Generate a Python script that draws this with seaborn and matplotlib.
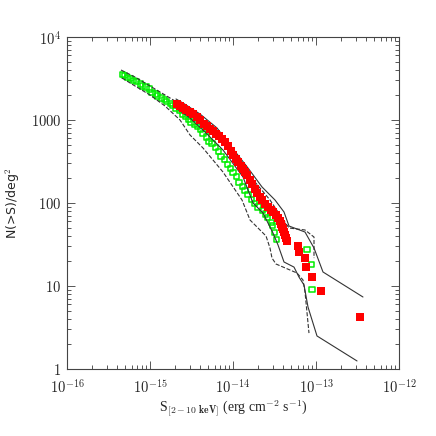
import numpy as np
import pandas as pd
import matplotlib
matplotlib.use("Agg")
import matplotlib.pyplot as plt
import seaborn as sns
from matplotlib.ticker import LogLocator, NullFormatter

# fluxes in units of 1e-15 erg cm^-2 s^-1, counts N(>S) per deg^2
green_s = [0.460, 0.4995, 0.543, 0.590, 0.641, 0.697, 0.758, 0.823, 0.895, 0.973,
           1.057, 1.149, 1.248, 1.357, 1.475, 1.602, 1.742, 1.893, 2.057, 2.236,
           2.430, 2.641, 2.870, 3.119, 3.390, 3.684, 4.004, 4.351, 4.729, 5.139,
           5.585, 6.070, 6.597, 7.169, 7.792, 8.468, 9.203, 10.0, 10.87, 11.81,
           12.84, 13.95, 15.16, 16.48, 17.91, 20.01, 22.36, 24.30, 26.40, 28.70,
           30.33, 32.06, 33.89, 77.9, 87.1, 89.5]
green_n = [3582, 3483, 3294, 3205, 3033, 2870, 2715, 2568, 2498, 2363,
           2174, 2057, 1946, 1841, 1742, 1648, 1559, 1475, 1357, 1284,
           1181, 1117, 1028, 946, 895, 824, 758, 697, 624, 558,
           514, 460, 412, 368, 330, 295, 257, 230, 206, 179,
           160, 143, 125, 108.7, 97.3, 89.5, 82.3, 73.7, 66.0, 59.0,
           54.3, 44.7, 36.8, 27.9, 18.4, 9.2]

red_s = [2.115, 2.299, 2.498, 2.715, 3.033, 3.297, 3.684, 4.004, 4.473, 4.861,
         5.283, 5.741, 6.240, 6.782, 7.370, 8.010, 8.705, 9.461, 10.0, 10.87,
         11.49, 12.48, 13.20, 13.95, 14.75, 16.03, 16.94, 18.41, 19.46, 21.15,
         22.36, 24.30, 26.40, 28.70, 30.33, 32.97, 34.85, 36.84, 37.87, 38.94,
         40.04, 41.16, 42.31, 43.50, 44.73, 60.7, 62.4, 73.7, 75.8, 89.5,
         114.9, 339]
red_n = [1559, 1475, 1395, 1320, 1248, 1181, 1087, 1000, 895, 847,
         779, 737, 678, 642, 590, 543, 486, 423, 379, 339,
         312, 279, 257, 236, 217, 189, 169, 147.5, 132, 118,
         108.7, 97.3, 89.5, 82.3, 77.9, 71.7, 66.0, 60.7, 55.8, 51.4,
         48.6, 44.7, 41.2, 37.9, 34.8, 30.3, 25.7, 21.7, 16.9, 12.8,
         8.7, 4.23]

# confidence envelopes
up_solid_s = [2.057, 2.498, 4.004, 6.415, 9.203, 15.16, 22.36, 32.06, 41.16, 47.3, 73.7, 94.6, 121.4, 368]
up_solid_n = [1791, 1603, 1181, 801, 500, 264, 156, 108.7, 77.9, 52.8, 44.7, 28.7, 14.75, 7.37]
lo_solid_s = [2.057, 3.033, 4.598, 7.578, 13.20, 17.42, 22.98, 30.33, 34.85, 41.16, 54.3, 62.4, 71.7, 80.1, 102.8, 312]
lo_solid_n = [1395, 1057, 717, 435, 206, 100, 75.8, 43.5, 31.2, 19.46, 16.9, 12.8, 10.28, 5.58, 2.50, 1.25]
up_dash_s = [0.447, 0.660, 1.0, 1.516, 2.299, 4.004, 6.973, 12.14, 18.41, 27.9, 36.84, 47.3, 73.7, 94.6, 94.6]
up_dash_n = [4004, 3294, 2568, 2001, 1559, 1057, 624, 330, 179, 108.7, 71.7, 50.0, 47.3, 38.9, 21.7]
lo_dash_s = [0.460, 0.660, 1.0, 1.516, 2.299, 3.033, 4.351, 7.578, 12.84, 16.03, 20.01, 25.0, 27.9, 29.5, 32.97, 59.0, 69.7, 73.7, 82.3]
lo_dash_n = [3205, 2568, 2001, 1475, 1000, 660, 460, 236, 108.7, 62.4, 50.0, 40.0, 28.7, 21.7, 18.4, 14.34, 11.81, 8.47, 2.71]

green = pd.DataFrame({"S": np.array(green_s) * 1e-15, "N": green_n})
red = pd.DataFrame({"S": np.array(red_s) * 1e-15, "N": red_n})

sns.set_style("ticks")
plt.rcParams["font.family"] = ["Liberation Serif", "DejaVu Serif"]
plt.rcParams["mathtext.fontset"] = "cm"

fig = plt.figure(figsize=(4.36, 4.36), dpi=100)
ax = fig.add_axes([67 / 436, 67 / 436, 332 / 436, 332 / 436])
ax.set_xscale("log")
ax.set_yscale("log")

sns.scatterplot(data=green, x="S", y="N", marker="s", s=13, facecolor="none",
                edgecolor="#00ee00", linewidth=1.1, ax=ax, zorder=2)

for xs, ys, ls in [(up_solid_s, up_solid_n, "-"), (lo_solid_s, lo_solid_n, "-"),
                   (up_dash_s, up_dash_n, "--"), (lo_dash_s, lo_dash_n, "--")]:
    d = pd.DataFrame({"S": np.array(xs) * 1e-15, "N": ys})
    sns.lineplot(data=d, x="S", y="N", sort=False, estimator=None, color="#333333",
                 linewidth=0.8, linestyle=ls, ax=ax, zorder=3,
                 dashes=False if ls == "-" else (5, 4))

sns.scatterplot(data=red, x="S", y="N", marker="s", s=27, color="#ff0000",
                edgecolor="none", ax=ax, zorder=4)

ax.set_xlim(1e-16, 1e-12)
ax.set_ylim(1, 1e4)
ax.set_xticks([1e-16, 1e-15, 1e-14, 1e-13, 1e-12])
ax.set_xticklabels([r"$10^{-16}$", r"$10^{-15}$", r"$10^{-14}$", r"$10^{-13}$", r"$10^{-12}$"])
ax.set_yticks([1, 10, 100, 1000, 1e4])
ax.set_yticklabels([r"$1$", r"$10$", r"$100$", r"$1000$", r"$10^{4}$"])
ax.xaxis.set_minor_locator(LogLocator(base=10, subs=np.arange(2, 10), numticks=20))
ax.yaxis.set_minor_locator(LogLocator(base=10, subs=np.arange(2, 10), numticks=20))
ax.xaxis.set_minor_formatter(NullFormatter())
ax.yaxis.set_minor_formatter(NullFormatter())
ax.tick_params(which="both", direction="in", top=True, right=True, color="#555555",
               labelsize=10.5, width=0.7)
ax.tick_params(which="major", length=6)
ax.tick_params(which="minor", length=3)
ax.tick_params(axis="x", which="major", pad=6)
ax.tick_params(axis="y", which="major", pad=4)
for sp in ax.spines.values():
    sp.set_color("#444444")
    sp.set_linewidth(0.8)

ax.set_xlabel(r"S$_{\mathbf{[2-10\ keV]}}$ (erg cm$^{-2}$ s$^{-1}$)", fontsize=10, labelpad=2)
ax.set_ylabel(r"N(>S)/deg$^2$", fontsize=9, family=["DejaVu Sans"], labelpad=6)

fig.savefig("out.png", dpi=100)
